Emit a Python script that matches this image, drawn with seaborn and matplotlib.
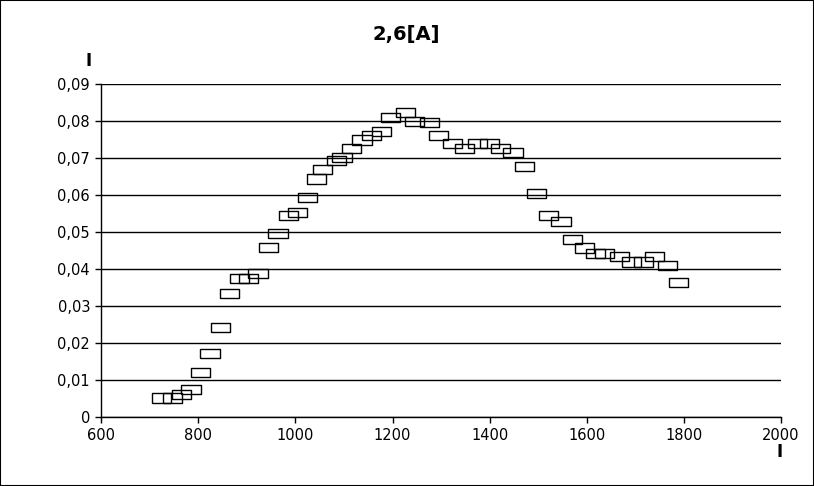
import matplotlib
matplotlib.use("Agg")
import matplotlib.pyplot as plt
from matplotlib.ticker import FuncFormatter, MultipleLocator
import seaborn as sns
import pandas as pd

# values
speed = [725, 746, 766, 785, 805, 824, 845, 865, 884, 904, 923, 944,
         964, 985, 1004, 1025, 1043, 1056, 1085, 1096, 1115, 1137, 1156, 1177,
         1195, 1227, 1245, 1276, 1295, 1323, 1348, 1375, 1399, 1423, 1448, 1472,
         1496, 1521, 1547, 1571, 1596, 1618, 1637, 1668, 1692, 1717, 1739, 1766,
         1788]
current = [0.0052, 0.0052, 0.0062, 0.0075, 0.0121, 0.0172, 0.0243, 0.0335,
           0.0375, 0.0375, 0.0389, 0.0459, 0.0497, 0.0545, 0.0554, 0.0594,
           0.0644, 0.0670, 0.0694, 0.0702, 0.0726, 0.0749, 0.0762, 0.0772,
           0.0810, 0.0824, 0.0799, 0.0797, 0.0762, 0.0740, 0.0726, 0.0740,
           0.0740, 0.0726, 0.0716, 0.0678, 0.0605, 0.0545, 0.0529, 0.0481,
           0.0458, 0.0443, 0.0443, 0.0435, 0.0420, 0.0420, 0.0435, 0.0410,
           0.0364]

df = pd.DataFrame({"x": speed, "y": current})

sns.set_style("white")
plt.rcParams["font.family"] = ["DejaVu Sans"]
plt.rcParams["text.color"] = "black"
plt.rcParams["axes.labelcolor"] = "black"
plt.rcParams["xtick.color"] = "black"
plt.rcParams["ytick.color"] = "black"

fig = plt.figure(figsize=(8.14, 4.86), dpi=100)
ax = fig.add_axes([0.1243, 0.1414, 0.8352, 0.6851])

# wide open rectangle marker
box = [(-1, -0.5), (1, -0.5), (1, 0.5), (-1, 0.5), (-1, -0.5)]
sns.scatterplot(data=df, x="x", y="y", ax=ax, marker=box, s=190,
                color="black", facecolor="none", edgecolor="black",
                linewidth=1.0, zorder=3, clip_on=False)

ax.set_xlim(600, 2000)
ax.set_ylim(0, 0.09)
ax.xaxis.set_major_locator(MultipleLocator(200))
ax.yaxis.set_major_locator(MultipleLocator(0.01))


def comma(v, pos):
    if abs(v) < 1e-9:
        return "0"
    return f"{v:.2f}".replace(".", ",")


ax.yaxis.set_major_formatter(FuncFormatter(comma))
ax.xaxis.set_major_formatter(FuncFormatter(lambda v, p: f"{v:.0f}"))

ax.grid(axis="y", color="black", linewidth=1.0)
ax.grid(axis="x", visible=False)
ax.set_axisbelow(True)
for side in ["top", "right"]:
    ax.spines[side].set_visible(False)
for side in ["left", "bottom"]:
    ax.spines[side].set_color("black")
    ax.spines[side].set_linewidth(1.0)
ax.tick_params(axis="both", direction="out", length=4, width=1,
               color="black", labelsize=10.5, labelcolor="black", pad=4,
               left=True, bottom=True)

ax.set_title("2,6[A]", fontsize=14, fontweight="bold", pad=32, x=0.448,
             color="black")

ax.set_ylabel("I", rotation=0, fontweight="bold", fontsize=12, color="black")
ax.yaxis.set_label_coords(-0.019, 1.043)
ax.set_xlabel("I", fontweight="bold", fontsize=12, color="black")
ax.xaxis.set_label_coords(0.9985, -0.077)

fig.patches.append(plt.Rectangle((0, 0), 1, 1, fill=False, edgecolor="black",
                                 linewidth=1.5, transform=fig.transFigure,
                                 figure=fig))

fig.savefig("out.png", dpi=100)
